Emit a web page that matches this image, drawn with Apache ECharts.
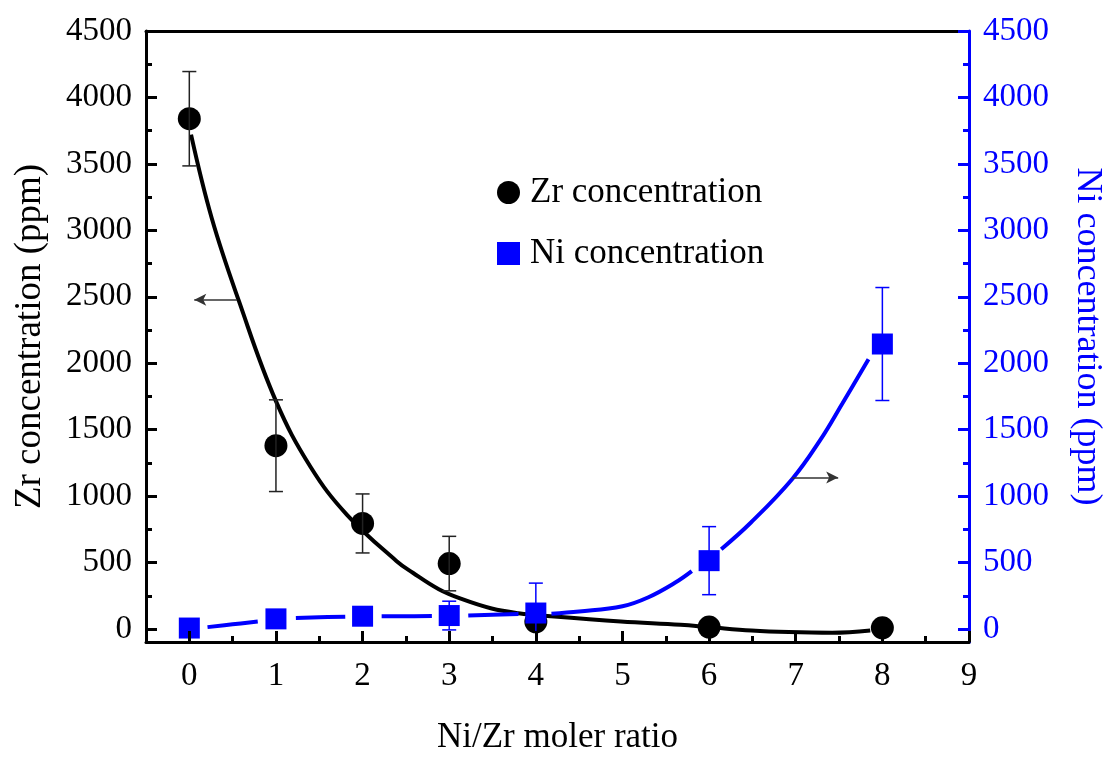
<!DOCTYPE html>
<html>
<head>
<meta charset="utf-8">
<script src="https://cdn.jsdelivr.net/npm/echarts@6/dist/echarts.min.js"></script>
<style>
html,body{margin:0;padding:0;background:#fff;}
#chart{width:1113px;height:760px;}
</style>
</head>
<body>
<div id="chart"></div>
<script>
// ---- data ----
const ratio = [0, 1, 2, 3, 4, 6, 8];
const zrConc = [3840, 1380, 795, 493, 55, 15, 10];
const zrErr  = [355, 345, 222, 205, 0, 0, 0];
const niConc = [8, 77, 97, 102, 121, 515, 2145];
const niErr  = [0, 0, 0, 108, 225, 256, 425];

// fitted curves (null = visible gap at a symbol)
const zrFitX = [0.02, 0.26, 0.57, 1.0, 1.4, 1.82, 2.39, 2.58, 2.88, 3.15, 3.49, 3.8, 4.17, 4.98, 5.67, 6.0, 6.49, 6.92, 7.42, 7.86];
const zrFitY = [3720, 3089, 2473, 1715, 1220, 860, 513, 424, 300, 225, 155, 120, 97, 57, 32, 15, -10, -22, -27, -10];
const niFitX = [0.21, 0.5, 0.79, null, 1.23, 1.5, 1.8, null, 2.22, 2.5, 2.8, null, 3.22, 3.5, 3.8, null, 4.18, 4.5, 5.0, 5.3, 5.61, 5.8, null, 6.14, 6.48, 6.96, 7.28, 7.54, 7.84];
const niFitY = [15, 36, 57, null, 84, 89, 93, null, 96, 97, 98, null, 102, 108, 113, null, 116, 132, 172, 240, 350, 436, null, 601, 800, 1130, 1420, 1700, 2030];

// arrows pointing to the axes
const leftArrow  = {from: [0.55, 2478], to: [0.057, 2478]};
const rightArrow = {from: [6.96, 1141], to: [7.49, 1141]};

const yMajor = [0, 500, 1000, 1500, 2000, 2500, 3000, 3500, 4000, 4500];
const yMinor = [250, 750, 1250, 1750, 2250, 2750, 3250, 3750, 4250];
const xMajor = [0, 1, 2, 3, 4, 5, 6, 7, 8, 9];
const xMinor = [0.5, 1.5, 2.5, 3.5, 4.5, 5.5, 6.5, 7.5, 8.5];

const X_MIN = -0.5, X_MAX = 9, Y_MIN = -97, Y_MAX = 4500;
const FONT = "'Liberation Serif', 'Times New Roman', serif";
const BLUE = '#0000ff';

function segments(xs, ys) {
  const out = []; let cur = [];
  xs.forEach((x, i) => {
    if (x === null) { if (cur.length) out.push(cur); cur = []; }
    else cur.push([x, ys[i]]);
  });
  if (cur.length) out.push(cur);
  return out;
}
function errData(xs, ys, es) { return xs.map((x, i) => [x, ys[i], es[i]]).filter(d => d[2] > 0); }

function errRender(color, cap) {
  return function (params, api) {
    const x = api.value(0), y = api.value(1), e = api.value(2);
    const t = api.coord([x, y + e]);
    const b = api.coord([x, y - e]);
    const st = {stroke: color, lineWidth: 1.5};
    return {type: 'group', children: [
      {type: 'line', shape: {x1: t[0], y1: t[1], x2: b[0], y2: b[1]}, style: st},
      {type: 'line', shape: {x1: t[0] - cap, y1: t[1], x2: t[0] + cap, y2: t[1]}, style: st},
      {type: 'line', shape: {x1: b[0] - cap, y1: b[1], x2: b[0] + cap, y2: b[1]}, style: st}
    ]};
  };
}

const plain = v => String(v);
const labelStyle = {fontFamily: FONT, fontSize: 33, formatter: plain};
const arrowMark = (a) => ({silent: true, symbolSize: [9, 12], animation: false,
  lineStyle: {color: '#333', width: 1.5, type: 'solid'}, label: {show: false}, emphasis: {disabled: true},
  data: [[{coord: a.from, symbol: 'none'}, {coord: a.to, symbol: 'arrow'}]]});

const series = [];
segments(zrFitX, zrFitY).forEach((seg, k) => series.push({
  name: 'Zr fit', type: 'line', xAxisIndex: 0, yAxisIndex: 0, z: 2, data: seg,
  smooth: 0.4, showSymbol: false, symbol: 'none', silent: true,
  lineStyle: {color: '#000', width: 4},
  markLine: k === 0 ? arrowMark(leftArrow) : undefined}));
segments(niFitX, niFitY).forEach((seg, k) => series.push({
  name: 'Ni fit', type: 'line', xAxisIndex: 0, yAxisIndex: 2, z: 2, data: seg,
  smooth: 0.4, showSymbol: false, symbol: 'none', silent: true,
  lineStyle: {color: BLUE, width: 4},
  markLine: k === 0 ? arrowMark(rightArrow) : undefined}));
series.push(
  {name: 'Zr concentration', type: 'scatter', xAxisIndex: 0, yAxisIndex: 0, z: 3,
    symbol: 'circle', symbolSize: 23, itemStyle: {color: '#000', opacity: 1},
    data: ratio.map((x, i) => [x, zrConc[i]])},
  {name: 'Zr err', type: 'custom', xAxisIndex: 0, yAxisIndex: 0, z: 4,
    renderItem: errRender('#222', 7), encode: {x: 0, y: 1},
    data: errData(ratio, zrConc, zrErr)},
  {name: 'Ni concentration', type: 'scatter', xAxisIndex: 0, yAxisIndex: 2, z: 5,
    symbol: 'rect', symbolSize: 21, itemStyle: {color: BLUE, opacity: 1},
    data: ratio.map((x, i) => [x, niConc[i]])},
  {name: 'Ni err', type: 'custom', xAxisIndex: 0, yAxisIndex: 2, z: 6,
    renderItem: errRender(BLUE, 7), encode: {x: 0, y: 1},
    data: errData(ratio, niConc, niErr)}
);

const chart = echarts.init(document.getElementById('chart'), null, {renderer: 'canvas'});
chart.setOption({
  animation: false,
  backgroundColor: '#ffffff',
  grid: {left: 146, right: 132, top: 31, bottom: 110, containLabel: false},
  legend: {
    orient: 'vertical', left: 492, top: 170, itemGap: 26, itemWidth: 23, itemHeight: 23,
    textStyle: {fontFamily: FONT, fontSize: 35, color: '#000', padding: [0, 0, 0, 5]},
    selectedMode: false,
    data: [{name: 'Zr concentration', icon: 'circle', itemStyle: {color: '#000', opacity: 1}},
           {name: 'Ni concentration', icon: 'rect', itemStyle: {color: BLUE, opacity: 1}}]
  },
  xAxis: [
    {type: 'value', position: 'bottom', min: X_MIN, max: X_MAX, z: 10,
      name: 'Ni/Zr moler ratio', nameLocation: 'middle', nameGap: 78,
      nameTextStyle: {fontFamily: FONT, fontSize: 35, color: '#000'},
      axisLine: {show: true, onZero: false, lineStyle: {color: '#000', width: 3}},
      axisTick: {show: true, inside: true, length: 11, lineStyle: {color: '#000', width: 3}, customValues: xMajor},
      axisLabel: Object.assign({show: true, color: '#000', margin: 18, customValues: xMajor}, labelStyle),
      splitLine: {show: false}},
    {type: 'value', position: 'bottom', min: X_MIN, max: X_MAX, z: 10,
      axisLine: {show: false, onZero: false},
      axisTick: {show: true, inside: true, length: 6, lineStyle: {color: '#000', width: 3}, customValues: xMinor},
      axisLabel: {show: false}, splitLine: {show: false}},
    {type: 'value', position: 'top', min: X_MIN, max: X_MAX, z: 9,
      axisLine: {show: true, onZero: false, lineStyle: {color: '#000', width: 3}},
      axisTick: {show: false}, axisLabel: {show: false}, splitLine: {show: false}}
  ],
  yAxis: [
    {type: 'value', position: 'left', min: Y_MIN, max: Y_MAX, z: 10,
      name: 'Zr concentration (ppm)', nameLocation: 'middle', nameGap: 97,
      nameTextStyle: {fontFamily: FONT, fontSize: 37, color: '#000'},
      axisLine: {show: true, onZero: false, lineStyle: {color: '#000', width: 3}},
      axisTick: {show: true, inside: true, length: 11, lineStyle: {color: '#000', width: 3}, customValues: yMajor},
      axisLabel: Object.assign({show: true, color: '#000', margin: 14, customValues: yMajor}, labelStyle),
      splitLine: {show: false}},
    {type: 'value', position: 'left', min: Y_MIN, max: Y_MAX, z: 10,
      axisLine: {show: false, onZero: false},
      axisTick: {show: true, inside: true, length: 6, lineStyle: {color: '#000', width: 3}, customValues: yMinor},
      axisLabel: {show: false}, splitLine: {show: false}},
    {type: 'value', position: 'right', min: Y_MIN, max: Y_MAX, z: 10,
      name: 'Ni concentration (ppm)', nameLocation: 'middle', nameGap: 100, nameRotate: -90,
      nameTextStyle: {fontFamily: FONT, fontSize: 36, color: BLUE},
      axisLine: {show: true, onZero: false, lineStyle: {color: BLUE, width: 3}},
      axisTick: {show: true, inside: true, length: 11, lineStyle: {color: BLUE, width: 3}, customValues: yMajor},
      axisLabel: Object.assign({show: true, color: BLUE, margin: 14, customValues: yMajor}, labelStyle),
      splitLine: {show: false}},
    {type: 'value', position: 'right', min: Y_MIN, max: Y_MAX, z: 10,
      axisLine: {show: false, onZero: false},
      axisTick: {show: true, inside: true, length: 6, lineStyle: {color: BLUE, width: 3}, customValues: yMinor},
      axisLabel: {show: false}, splitLine: {show: false}}
  ],
  series: series
});
</script>
</body>
</html>
